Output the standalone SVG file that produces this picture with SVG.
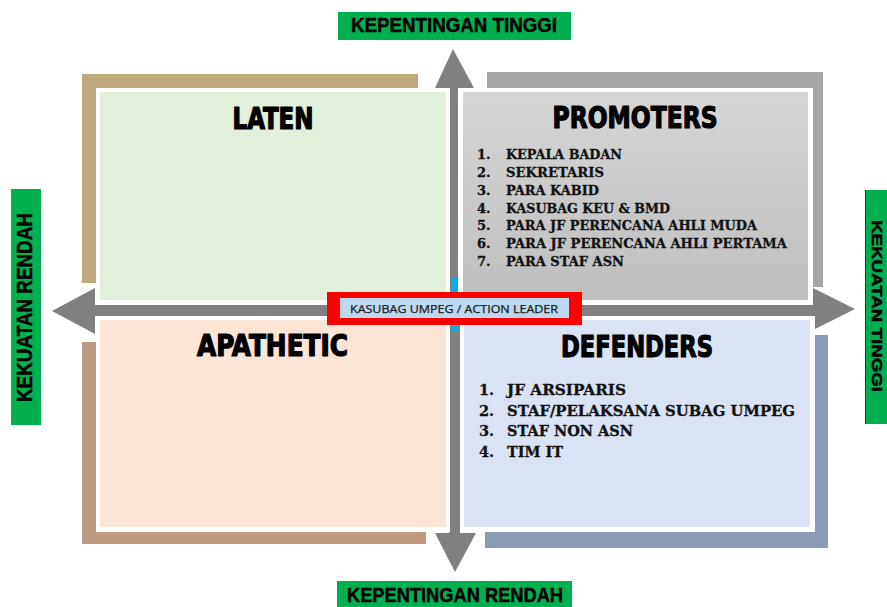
<svg xmlns="http://www.w3.org/2000/svg" width="887" height="607" viewBox="0 0 887 607">
<defs>
<linearGradient id="gGray" x1="0" y1="0" x2="0" y2="1">
<stop offset="0" stop-color="#D6D6D6"/>
<stop offset="1" stop-color="#BEBEBE"/>
</linearGradient>
<style>
.axisbox{fill:#00B050;}
.axis{font-family:"Liberation Sans","DejaVu Sans",sans-serif;font-weight:bold;fill:#000;stroke:#000;stroke-width:0.5px;}
.white{fill:#FFFFFF;}
.title{font-family:"DejaVu Sans Condensed","DejaVu Sans",sans-serif;font-weight:bold;font-size:30px;fill:#000;stroke:#000;stroke-width:1.2px;stroke-linejoin:round;}
.item{font-family:"DejaVu Serif","Liberation Serif",serif;font-weight:bold;fill:#111;stroke:#111;stroke-width:0.3px;}
.arrow{fill:#808080;}
.lead{font-family:"Open Sans","Liberation Sans",sans-serif;font-size:11.5px;fill:#1A1A1A;stroke:#1A1A1A;stroke-width:0.25px;}
</style>
</defs>
<rect width="887" height="607" fill="#FFFFFF"/>

<!-- shadows of quadrants -->
<g id="shadows">
<rect x="82" y="74" width="336" height="209" fill="#BCAA7C"/>
<rect x="487" y="72" width="336" height="215" fill="#A6A6A6"/>
<rect x="82" y="342" width="344" height="202" fill="#BF9A80"/>
<rect x="485" y="335" width="343" height="213" fill="#8D9AB3"/>
</g>

<!-- connectors (axes) -->
<g id="connectors">
<polygon class="arrow" points="95,305 813,305 813,288 855,309 813,330 813,316 95,316 95,334 52,311 95,288"/>
<polygon class="arrow" points="449,88 435,88 453,49 474,88 460,88 460,533 476,533 455,572 435,533 449,533"/>
<rect x="451" y="277" width="6" height="55" fill="#00B0F0"/>
</g>

<g id="latent">
<rect class="white" x="96" y="88" width="354" height="217"/>
<rect x="100" y="92" width="346" height="208" fill="#E2EFDA"/>
<text class="title" x="273" y="129" text-anchor="middle" textLength="81" lengthAdjust="spacingAndGlyphs">LATEN</text>
</g>

<g id="promoters">
<rect class="white" x="458" y="88" width="355" height="217"/>
<rect x="463" y="92" width="345" height="208" fill="url(#gGray)"/>
<text class="title" x="635" y="128" text-anchor="middle" textLength="165" lengthAdjust="spacingAndGlyphs">PROMOTERS</text>
<g font-size="13" class="item">
<text class="item" x="477" y="159">1.</text><text class="item" x="506" y="159" textLength="116" lengthAdjust="spacingAndGlyphs">KEPALA BADAN</text>
<text class="item" x="477" y="177">2.</text><text class="item" x="506" y="177" textLength="98" lengthAdjust="spacingAndGlyphs">SEKRETARIS</text>
<text class="item" x="477" y="195">3.</text><text class="item" x="506" y="195" textLength="93" lengthAdjust="spacingAndGlyphs">PARA KABID</text>
<text class="item" x="477" y="212.6">4.</text><text class="item" x="506" y="212.6" textLength="164" lengthAdjust="spacingAndGlyphs">KASUBAG KEU &amp; BMD</text>
<text class="item" x="477" y="230.4">5.</text><text class="item" x="506" y="230.4" textLength="251" lengthAdjust="spacingAndGlyphs">PARA JF PERENCANA AHLI MUDA</text>
<text class="item" x="477" y="248.2">6.</text><text class="item" x="506" y="248.2" textLength="281" lengthAdjust="spacingAndGlyphs">PARA JF PERENCANA AHLI PERTAMA</text>
<text class="item" x="477" y="266">7.</text><text class="item" x="506" y="266" textLength="118" lengthAdjust="spacingAndGlyphs">PARA STAF ASN</text>
</g>
</g>

<g id="apathetic">
<rect class="white" x="96" y="316" width="354" height="216"/>
<rect x="100" y="320" width="346" height="207" fill="#FBE5D6"/>
<text class="title" x="272.5" y="356" text-anchor="middle" textLength="151" lengthAdjust="spacingAndGlyphs">APATHETIC</text>
</g>

<g id="defenders">
<rect class="white" x="460" y="316" width="355" height="216"/>
<rect x="464" y="320" width="346" height="207" fill="#DAE3F3"/>
<text class="title" x="637" y="357" text-anchor="middle" textLength="152" lengthAdjust="spacingAndGlyphs">DEFENDERS</text>
<g font-size="14.5" class="item">
<text class="item" x="479" y="395">1.</text><text class="item" x="507" y="395" textLength="119" lengthAdjust="spacingAndGlyphs">JF ARSIPARIS</text>
<text class="item" x="479" y="415.7">2.</text><text class="item" x="507" y="415.7" textLength="288" lengthAdjust="spacingAndGlyphs">STAF/PELAKSANA SUBAG UMPEG</text>
<text class="item" x="479" y="436.3">3.</text><text class="item" x="507" y="436.3" textLength="126" lengthAdjust="spacingAndGlyphs">STAF NON ASN</text>
<text class="item" x="479" y="457">4.</text><text class="item" x="507" y="457" textLength="56" lengthAdjust="spacingAndGlyphs">TIM IT</text>
</g>
</g>

<g id="action-leader">
<rect x="327" y="292" width="255" height="33" fill="#FF0000"/>
<rect x="340" y="298" width="229" height="20" fill="#BDD7EE"/>
<text class="lead" x="350" y="313" textLength="208" lengthAdjust="spacingAndGlyphs">KASUBAG UMPEG / ACTION LEADER</text>
</g>

<g id="axis-top">
<rect class="axisbox" x="338" y="12" width="233" height="28"/>
<text class="axis" x="351" y="32" font-size="21" textLength="206" lengthAdjust="spacingAndGlyphs">KEPENTINGAN TINGGI</text>
</g>

<g id="axis-bottom">
<rect class="axisbox" x="337" y="581" width="235" height="26"/>
<text class="axis" x="347" y="602" font-size="20" textLength="216" lengthAdjust="spacingAndGlyphs">KEPENTINGAN RENDAH</text>
</g>

<g id="axis-left">
<rect class="axisbox" x="11" y="189" width="30" height="236"/>
<text class="axis" transform="translate(32,402) rotate(-90)" x="0" y="0" font-size="22" textLength="189" lengthAdjust="spacingAndGlyphs">KEKUATAN RENDAH</text>
</g>

<g id="axis-right">
<rect class="axisbox" x="865" y="190" width="24" height="234"/>
<line x1="865.5" y1="190" x2="865.5" y2="424" stroke="#333" stroke-width="1"/>
<text class="axis" transform="translate(872,220) rotate(90)" x="0" y="0" font-size="15.5" textLength="172" lengthAdjust="spacingAndGlyphs">KEKUATAN TINGGI</text>
</g>
</svg>
